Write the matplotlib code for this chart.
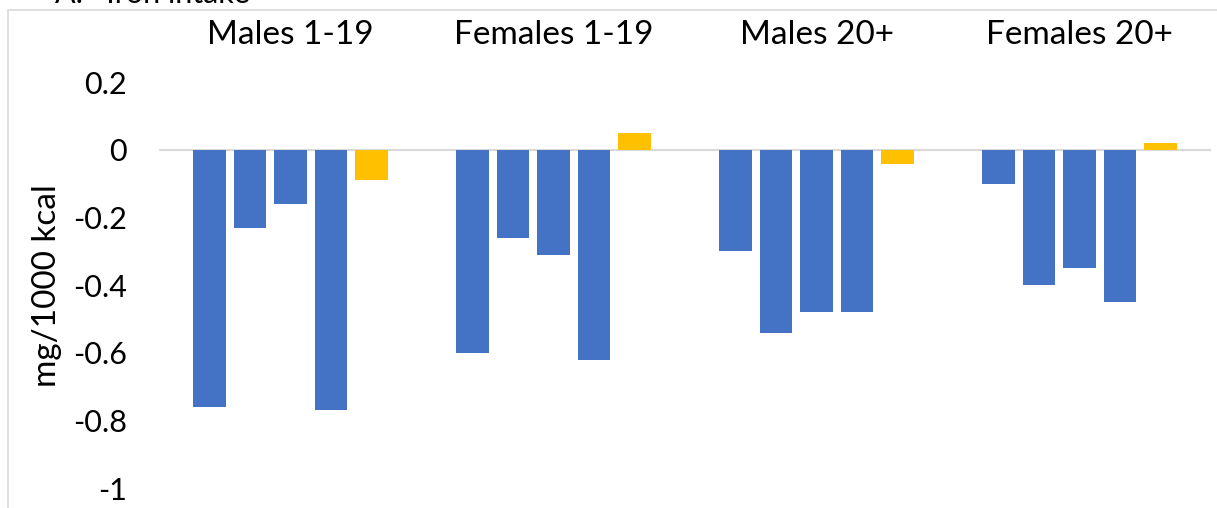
import matplotlib.pyplot as plt
import numpy as np
from matplotlib.patches import Rectangle

groups = ["Males 1-19", "Females 1-19", "Males 20+", "Females 20+"]
# five bars per group; the last one in each group is the yellow bar
blue_vals = [
    [-0.76, -0.23, -0.16, -0.77],
    [-0.60, -0.26, -0.31, -0.62],
    [-0.30, -0.54, -0.48, -0.48],
    [-0.10, -0.40, -0.35, -0.45],
]
yellow_vals = [-0.09, 0.05, -0.04, 0.02]
yticks = [0.2, 0, -0.2, -0.4, -0.6, -0.8, -1]
ytick_labels = ["0.2", "0", "-0.2", "-0.4", "-0.6", "-0.8", "-1"]

BLUE = "#4472C4"
YELLOW = "#FFC000"
W, H = 1217, 508

plt.rcParams["font.family"] = ["Lato", "DejaVu Sans"]

fig = plt.figure(figsize=(W / 100, H / 100), dpi=100, facecolor="white")

# chart border (only top and left visible in crop)
fig.patches.append(Rectangle((8 / W, -0.1), 1.2, 1 - 10 / H + 0.1,
                             transform=fig.transFigure, fill=False,
                             edgecolor="#d9d9d9", linewidth=1.2))
fig.text(55 / W, 1 - 3 / H, "A.   Iron intake", fontsize=22, va="baseline", ha="left")

# axes: x from 159 to 1211 px, y=0.2 at 82.4 px, y=-1 at 488 px
x0, x1 = 159, 1211
ytop_px, ybot_px = 150 - 0.2 * 338, 488
ax = fig.add_axes([x0 / W, 1 - ybot_px / H, (x1 - x0) / W, (ybot_px - ytop_px) / H])
ax.set_xlim(0, 4)
ax.set_ylim(-1, 0.2)

step = 0.154
width = 0.122
for g in range(4):
    vals = blue_vals[g] + [yellow_vals[g]]
    cols = [BLUE] * 4 + [YELLOW]
    for i, (v, c) in enumerate(zip(vals, cols)):
        xc = g + 0.5 + (i - 2) * step
        ax.bar(xc, v, width=width, color=c, edgecolor="none", zorder=3)

ax.axhline(0, color="#d9d9d9", linewidth=1.5, zorder=2)

for g, name in enumerate(groups):
    ax.text(g + 0.5, 0.34, name, ha="center", va="center", fontsize=24,
            transform=ax.transData)

ax.set_xticks([])
ax.set_yticks(yticks)
ax.set_yticklabels(ytick_labels, fontsize=22)
ax.tick_params(axis="y", length=0, pad=23)
for s in ax.spines.values():
    s.set_visible(False)
ax.set_ylabel("mg/1000 kcal", fontsize=24, labelpad=8)
ax.patch.set_alpha(0)

fig.savefig("out.png", dpi=100, facecolor="white")
